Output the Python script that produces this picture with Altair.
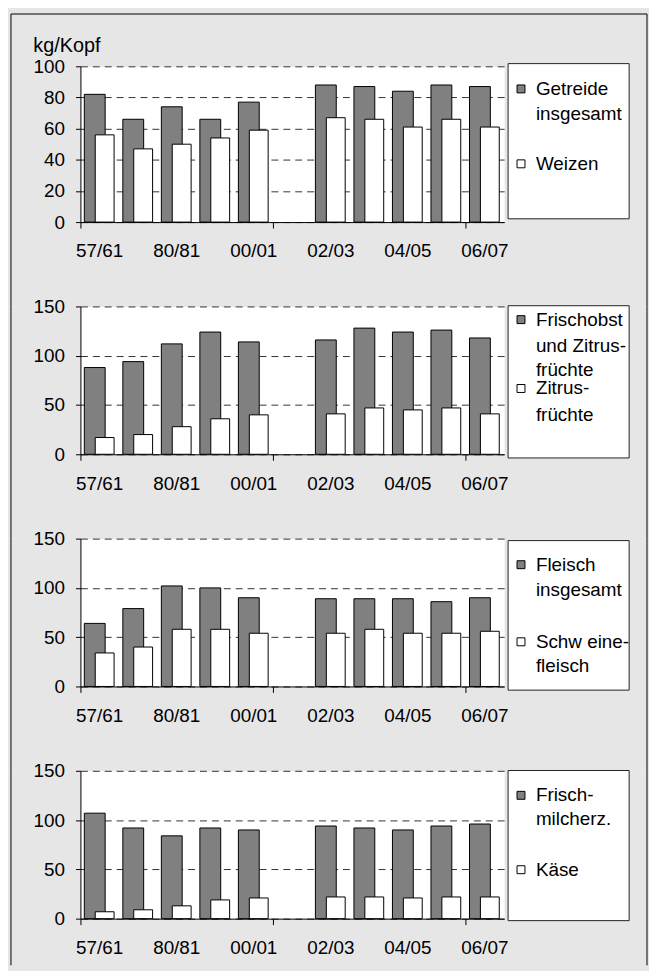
import json
import altair as alt
import pandas as pd

# ---------------- data ----------------
categories = ["57/61", "70/71", "80/81", "90/91", "00/01", "01/02",
              "02/03", "03/04", "04/05", "05/06", "06/07"]
shown_labels = ["57/61", "80/81", "00/01", "02/03", "04/05", "06/07"]
tick_categories = ["57/61", "01/02", "06/07"]

getreide = [82, 66, 74, 66, 77, None, 88, 87, 84, 88, 87]
weizen = [56, 47, 50, 54, 59, None, 67, 66, 61, 66, 61]

frischobst = [88, 94, 112, 124, 114, None, 116, 128, 124, 126, 118]
zitrus = [17, 20, 28, 36, 40, None, 41, 47, 45, 47, 41]

fleisch = [64, 79, 102, 100, 90, None, 89, 89, 89, 86, 90]
schwein = [34, 40, 58, 58, 54, None, 54, 58, 54, 54, 56]

frischmilch = [107, 92, 84, 92, 90, None, 94, 92, 90, 94, 96]
kaese = [7, 9, 13, 19, 21, None, 22, 22, 21, 22, 22]

legend1 = [["Getreide", "insgesamt"], ["Weizen"]]
legend2 = [["Frischobst", "und Zitrus-", "früchte"], ["Zitrus-", "früchte"]]
legend3 = [["Fleisch", "insgesamt"], ["Schw eine-", "fleisch"]]
legend4 = [["Frisch-", "milcherz."], ["Käse"]]

y_unit = "kg/Kopf"

# ---------------- styling / layout ----------------
FONT = "Arial"
DARK = "#808080"
GRAY_BG = "#e6e6e6"
W = 427

panels = [
    dict(dark=getreide, light=weizen, legend=legend1, ymax=100, step=20, height=157,
         box=(-2.7, 153.7), line_y=[[25.5, 51], [101]], border=(-52.7, 242)),
    dict(dark=frischobst, light=zitrus, legend=legend2, ymax=150, step=50, height=149,
         box=(-0.7, 152.7), line_y=[[14, 40.5, 65], [83.4, 110]], border=(0, 234)),
    dict(dark=fleisch, light=schwein, legend=legend3, ymax=150, step=50, height=149,
         box=(2, 152.7), line_y=[[24.3, 50], [102, 126]], border=(0, 234)),
    dict(dark=frischmilch, light=kaese, legend=legend4, ymax=150, step=50, height=149,
         box=(-0.3, 151), line_y=[[25, 49], [100]], border=(0, 196)),
]

one = pd.DataFrame({"k": [0]})
LEFT_B, RIGHT_B = -70, 571


def panel_chart(p, first):
    df = pd.DataFrame({"Jahr": categories, "dark": p["dark"], "light": p["light"]})
    tick_test = f"indexof({json.dumps(tick_categories)}, datum.value) >= 0"
    label_expr = f"indexof({json.dumps(shown_labels)}, datum.value) >= 0 ? datum.value : ''"
    x_enc = alt.X(
        "Jahr:N", sort=categories,
        scale=alt.Scale(domain=categories, paddingInner=0, paddingOuter=0),
        axis=alt.Axis(title=None, bandPosition=0, labelAngle=0,
                      labelExpr=label_expr, labelOverlap=False, labelFlush=False,
                      labelPadding=14, tickSize=6,
                      tickColor={"condition": {"test": tick_test, "value": "black"},
                                 "value": "transparent"},
                      domainColor="black", domainWidth=1, grid=False),
    )
    axis_kw = dict(values=list(range(0, p["ymax"] + 1, p["step"])), grid=True,
                   gridDash=[7, 5], gridColor="#333333", gridWidth=1,
                   tickSize=5, tickColor="black", labelPadding=11,
                   domainColor="black", domainWidth=1)
    if first:
        y_axis = alt.Axis(title=y_unit, titleAngle=0, titleAlign="left",
                          titleBaseline="alphabetic", titleX=-48, titleY=-15,
                          titleFontSize=20, titleFontWeight="normal", **axis_kw)
    else:
        y_axis = alt.Axis(title=None, **axis_kw)
    y_scale = alt.Scale(domain=[0, p["ymax"]], nice=False)

    base = alt.Chart(df)
    dark_bars = base.mark_bar(width=21, xOffset=-5, fill=DARK, stroke="black",
                              strokeWidth=1).encode(
        x=x_enc, y=alt.Y("dark:Q", scale=y_scale, axis=y_axis))
    light_bars = base.mark_bar(width=19, xOffset=5, fill="white", stroke="black",
                               strokeWidth=1).encode(
        x=x_enc, y=alt.Y("light:Q", scale=y_scale, axis=y_axis))

    layers = []
    # outer frame segments
    b0, b1 = p["border"]
    for bx in (LEFT_B, RIGHT_B):
        layers.append(alt.Chart(one).mark_rule(color="black", strokeWidth=1).encode(
            x=alt.value(bx), y=alt.value(b0), y2=alt.value(b1)))
    if first:
        layers.append(alt.Chart(one).mark_rule(color="black", strokeWidth=1).encode(
            x=alt.value(LEFT_B), x2=alt.value(RIGHT_B), y=alt.value(b0)))

    # legend box
    top, bottom = p["box"]
    layers.append(alt.Chart(one).mark_rect(fill="white", stroke="#222222", strokeWidth=1).encode(
        x=alt.value(431), x2=alt.value(553), y=alt.value(top), y2=alt.value(bottom)))
    fills = [DARK, "white"]
    for entry, ys, fill in zip(p["legend"], p["line_y"], fills):
        cy = top + ys[0]
        layers.append(alt.Chart(one).mark_rect(fill=fill, stroke="black", strokeWidth=1).encode(
            x=alt.value(440), x2=alt.value(448), y=alt.value(cy - 4), y2=alt.value(cy + 4)))
        for line, ly in zip(entry, ys):
            layers.append(alt.Chart(one).mark_text(
                align="left", baseline="middle", font=FONT, fontSize=19, color="black").encode(
                x=alt.value(459), y=alt.value(top + ly), text=alt.value(line)))

    layers += [dark_bars, light_bars]
    return alt.layer(*layers).properties(
        width=W, height=p["height"],
        view=alt.ViewBackground(fill="white", stroke="transparent"))


charts = [panel_chart(p, i == 0) for i, p in enumerate(panels)]

chart = alt.vconcat(*charts, spacing=85, bounds="flush").properties(
    padding={"left": 2, "top": 1, "right": 1, "bottom": 1},
    background=GRAY_BG,
).configure_axis(
    labelFont=FONT, labelFontSize=19, labelColor="black",
    titleFont=FONT, titleColor="black",
)

chart.save("out.html", embed_options={"renderer": "svg", "actions": False})
